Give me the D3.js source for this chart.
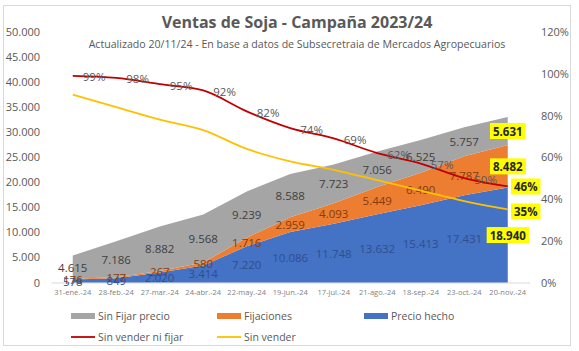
<!DOCTYPE html>
<html>
<head>
<meta charset="utf-8">
<script src="https://cdn.jsdelivr.net/npm/d3@7"></script>
<style>
  html, body { margin: 0; padding: 0; background: #fff; overflow: hidden; }
  svg { display: block; }
</style>
</head>
<body>
<script>
// datos (toneladas en miles / porcentajes)
const fechas = ["31-ene.-24", "28-feb.-24", "27-mar.-24", "24-abr.-24", "22-may.-24", "19-jun.-24",
    "17-jul.-24", "21-ago.-24", "18-sep.-24", "23-oct.-24", "20-nov.-24"];
const precioHecho = [578, 849, 2020, 3414, 7220, 10086, 11748, 13632, 15413, 17431, 18940];
const fijaciones = [176, 177, 267, 580, 1716, 2959, 4093, 5449, 6490, 7787, 8482];
const sinFijar = [4615, 7186, 8882, 9568, 9239, 8588, 7723, 7056, 6525, 5757, 5631];
const sinVenderNiFijar = [0.99, 0.98, 0.95, 0.92, 0.82, 0.74, 0.69, 0.62, 0.57, 0.50, 0.46];
const sinVender = [0.90, 0.84, 0.78, 0.73, 0.64, 0.58, 0.54, 0.49, 0.44, 0.39, 0.35];
const ticksToneladas = [0, 5000, 10000, 15000, 20000, 25000, 30000, 35000, 40000, 45000, 50000];
const ticksPct = [0, 0.2, 0.4, 0.6, 0.8, 1.0, 1.2];

const titulo = "Ventas de Soja - Campaña 2023/24";
const subtitulo = "Actualizado 20/11/24 - En base a datos de Subsecretraia de Mercados Agropecuarios";

const width = 579, height = 351;
const plot = {left: 51, right: 529.5, top: 32, bottom: 282.5};
const font = '"Open Sans", sans-serif';

const svg = d3.select("body").append("svg")
    .attr("width", width)
    .attr("height", height);

svg.append("rect")
    .attr("x", 3.5).attr("y", 5.5)
    .attr("width", 567).attr("height", 340)
    .attr("fill", "#fff")
    .attr("stroke", "#d9d9d9");

const xScale = d3.scaleBand().domain(fechas).range([plot.left, plot.right]);
const xPos = (i) => xScale(fechas[i]) + xScale.bandwidth() / 2;
const yScale = d3.scaleLinear().domain([0, 50000]).range([plot.bottom, plot.top]);
const pScale = d3.scaleLinear().domain([0, 1.2]).range([plot.bottom, plot.top]);

const locale = d3.formatLocale({decimal: ",", thousands: ".", grouping: [3], currency: ["$", ""]});
const fmtNum = locale.format(",d");
const fmtPct = d3.format(".0%");

// ---- ejes
function renderAxes() {
    const left = svg.append("g")
        .attr("class", "yaxis")
        .attr("transform", "translate(" + plot.left + ",0)")
        .call(d3.axisLeft(yScale).tickValues(ticksToneladas).tickFormat(fmtNum).tickSize(0).tickPadding(11));
    const right = svg.append("g")
        .attr("class", "paxis")
        .attr("transform", "translate(" + plot.right + ",0)")
        .call(d3.axisRight(pScale).tickValues(ticksPct).tickFormat(fmtPct).tickSize(0).tickPadding(11.5));
    [left, right].forEach((g) => {
        g.select(".domain").remove();
        g.selectAll("text")
            .style("font-family", font)
            .style("font-size", "11px")
            .attr("fill", "#595959");
    });

    const bottom = svg.append("g")
        .attr("class", "xaxis")
        .attr("transform", "translate(0," + plot.bottom + ")")
        .call(d3.axisBottom(xScale).tickSize(0).tickPadding(7));
    bottom.select(".domain").attr("stroke", "#d9d9d9");
    bottom.selectAll("text")
        .style("font-family", font)
        .style("font-size", "7.5px")
        .attr("fill", "#7f7f7f");
}

// ---- areas apiladas
const table = fechas.map((f, i) => ({fecha: f, precio: precioHecho[i], fijaciones: fijaciones[i], sinFijar: sinFijar[i]}));
const series = d3.stack().keys(["precio", "fijaciones", "sinFijar"])(table);
const colores = {precio: "#4472c4", fijaciones: "#ed7d31", sinFijar: "#a5a5a5"};
const colorEtiqueta = {precio: "#2f4f8f", fijaciones: "#843c0c", sinFijar: "#404040"};

function renderAreas() {
    const area = d3.area()
        .x((d, i) => xPos(i))
        .y0((d) => yScale(d[0]))
        .y1((d) => yScale(d[1]));

    svg.append("g").attr("class", "areas")
        .selectAll("path")
        .data(series)
        .join("path")
        .attr("fill", (s) => colores[s.key])
        .attr("d", area);
}

function boxLabel(g, cx, cy, text) {
    const t = g.append("text")
        .attr("x", cx).attr("y", cy)
        .attr("text-anchor", "middle")
        .attr("dominant-baseline", "central")
        .style("font-family", font)
        .style("font-size", "11.5px")
        .style("font-weight", "700")
        .attr("fill", "#262626")
        .text(text);
    const bb = t.node().getBBox();
    g.insert("rect", "text")
        .attr("x", bb.x - 3).attr("y", cy - 8)
        .attr("width", bb.width + 6).attr("height", 16)
        .attr("fill", "#ffff00");
}

function renderAreaLabels() {
    const g = svg.append("g").attr("class", "area-labels");
    series.forEach((s) => {
        s.forEach((d, i) => {
            const cy = yScale((d[0] + d[1]) / 2);
            const text = fmtNum(d.data[s.key]);
            if (i === s.length - 1) {
                boxLabel(g, xPos(i), cy, text);
                return;
            }
            g.append("text")
                .attr("x", xPos(i)).attr("y", cy)
                .attr("text-anchor", "middle")
                .attr("dominant-baseline", "central")
                .style("font-family", font)
                .style("font-size", "11.5px")
                .attr("fill", colorEtiqueta[s.key])
                .text(text);
        });
    });
}

// ---- lineas porcentuales
function renderLines() {
    const line = d3.line()
        .x((d, i) => xPos(i))
        .y((d) => pScale(d))
        .curve(d3.curveMonotoneX);

    svg.append("path").datum(sinVender)
        .attr("fill", "none").attr("stroke", "#ffc000").attr("stroke-width", 1.8)
        .attr("d", line);
    svg.append("path").datum(sinVenderNiFijar)
        .attr("fill", "none").attr("stroke", "#c00000").attr("stroke-width", 1.8)
        .attr("d", line);

    const g = svg.append("g").attr("class", "line-labels");
    sinVenderNiFijar.forEach((v, i) => {
        if (i === sinVenderNiFijar.length - 1) {
            boxLabel(g, xPos(i) + 18, pScale(v), fmtPct(v));
            return;
        }
        g.append("text")
            .attr("x", xPos(i) + 10).attr("y", pScale(v) + 1)
            .attr("dominant-baseline", "central")
            .style("font-family", font)
            .style("font-size", "11.5px")
            .attr("fill", "#595959")
            .text(fmtPct(v));
    });
    const last = sinVender.length - 1;
    boxLabel(g, xPos(last) + 18, pScale(sinVender[last]) + 2, fmtPct(sinVender[last]));
}

// ---- titulos
function renderTitles() {
    svg.append("text")
        .attr("x", 297).attr("y", 22)
        .attr("text-anchor", "middle")
        .attr("dominant-baseline", "central")
        .style("font-family", font)
        .style("font-size", "16px")
        .style("font-weight", "700")
        .attr("fill", "#595959")
        .text(titulo);
    svg.append("text")
        .attr("x", 297).attr("y", 44)
        .attr("text-anchor", "middle")
        .attr("dominant-baseline", "central")
        .style("font-family", font)
        .style("font-size", "10.6px")
        .attr("fill", "#595959")
        .text(subtitulo);
}

// ---- leyenda
const leyenda = [
    {label: "Sin Fijar precio", color: "#a5a5a5", tipo: "area", col: 0, row: 0},
    {label: "Fijaciones", color: "#ed7d31", tipo: "area", col: 1, row: 0},
    {label: "Precio hecho", color: "#4472c4", tipo: "area", col: 2, row: 0},
    {label: "Sin vender ni fijar", color: "#c00000", tipo: "line", col: 0, row: 1},
    {label: "Sin vender", color: "#ffc000", tipo: "line", col: 1, row: 1}
];

function renderLegend() {
    const cols = [71, 217, 364];
    const rows = [316, 337];
    const g = svg.append("g").attr("class", "legend");
    leyenda.forEach((d) => {
        const x = cols[d.col], y = rows[d.row];
        if (d.tipo === "area") {
            g.append("rect").attr("x", x).attr("y", y - 3).attr("width", 24).attr("height", 6).attr("fill", d.color);
        } else {
            g.append("line").attr("x1", x).attr("x2", x + 24).attr("y1", y).attr("y2", y)
                .attr("stroke", d.color).attr("stroke-width", 1.8);
        }
        g.append("text")
            .attr("x", x + 27).attr("y", y)
            .attr("dominant-baseline", "central")
            .style("font-family", font)
            .style("font-size", "10.5px")
            .attr("fill", "#595959")
            .text(d.label);
    });
}

renderAxes();
renderAreas();
renderAreaLabels();
renderLines();
renderTitles();
renderLegend();
</script>
</body>
</html>
